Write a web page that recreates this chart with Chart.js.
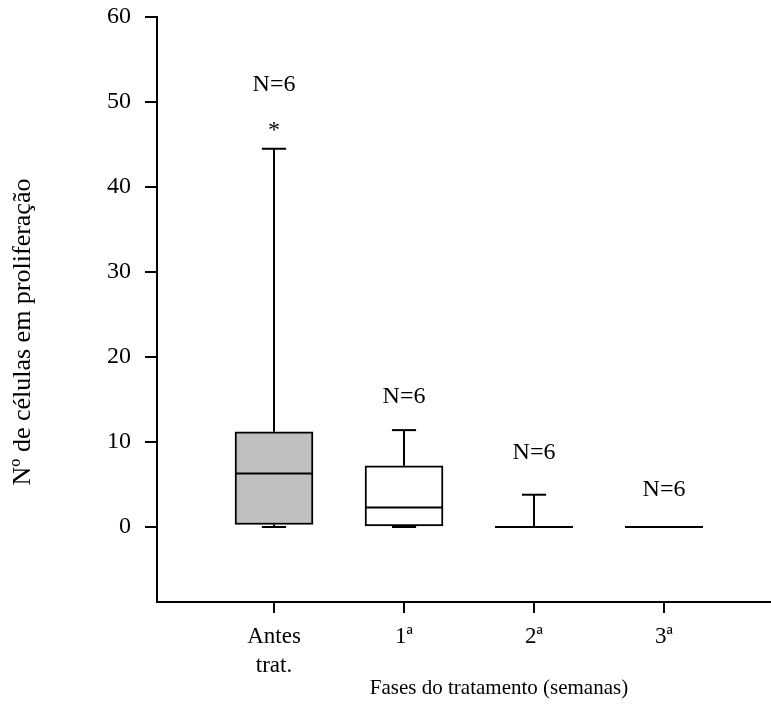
<!DOCTYPE html>
<html>
<head>
<meta charset="utf-8">
<title>Células em proliferação</title>
<script src="https://cdn.jsdelivr.net/npm/chart.js@4/dist/chart.umd.min.js"></script>
<style>
  html, body { margin: 0; padding: 0; background: #fff; }
  #wrap { width: 771px; height: 724px; }
</style>
</head>
<body>
<div id="wrap"><canvas id="boxChart" width="771" height="724"></canvas></div>
<script>
// phases of treatment and box statistics per phase
const categories = [['Antes', 'trat.'], '1ª', '2ª', '3ª'];
const positions = [1, 2, 3, 4];
const whiskerLow = [0, 0, 0, 0];
const q1 = [0.3, 0, 0, 0];
const median = [6.3, 2.3, 0, 0];
const q3 = [11.2, 7.2, 0, 0];
const whiskerHigh = [44.5, 11.4, 3.8, 0];
const extremes = [[47.2], [], [], []];
const nLabels = ['N=6', 'N=6', 'N=6', 'N=6'];
const nLabelY = [52, 15.3, 8.8, 4.4];
const yTicks = [0, 10, 20, 30, 40, 50, 60];
const boxColors = ['#c0c0c0', '#ffffff', '#ffffff', '#ffffff'];

const FONT = '"Liberation Serif", "Times New Roman", serif';

// whiskers, medians, N labels and axis titles
const boxExtras = {
    id: 'boxExtras',
    afterDatasetsDraw(chart) {
        const ctx = chart.ctx;
        const xs = chart.scales.x;
        const ys = chart.scales.y;
        const meta = chart.getDatasetMeta(0);
        ctx.save();
        ctx.strokeStyle = '#000';
        ctx.lineWidth = 2;
        positions.forEach((p, i) => {
            const xc = xs.getPixelForValue(p);
            const half = meta.data[i].width / 2;
            const cap = half * 0.31;
            const line = (x1, y1, x2, y2) => {
                ctx.beginPath();
                ctx.moveTo(x1, y1);
                ctx.lineTo(x2, y2);
                ctx.stroke();
            };
            // upper whisker
            if (whiskerHigh[i] > q3[i]) {
                line(xc, ys.getPixelForValue(q3[i]), xc, ys.getPixelForValue(whiskerHigh[i]));
                line(xc - cap, ys.getPixelForValue(whiskerHigh[i]), xc + cap, ys.getPixelForValue(whiskerHigh[i]));
            }
            // lower whisker
            line(xc, ys.getPixelForValue(q1[i]), xc, ys.getPixelForValue(whiskerLow[i]));
            line(xc - cap, ys.getPixelForValue(whiskerLow[i]), xc + cap, ys.getPixelForValue(whiskerLow[i]));
            // median
            line(xc - half, ys.getPixelForValue(median[i]), xc + half, ys.getPixelForValue(median[i]));

            ctx.fillStyle = '#000';
            ctx.textAlign = 'center';
            ctx.textBaseline = 'middle';
            ctx.font = '24px ' + FONT;
            extremes[i].forEach(v => ctx.fillText('*', xc, ys.getPixelForValue(v) + 5));
            ctx.fillText(nLabels[i], xc, ys.getPixelForValue(nLabelY[i]));
        });

        // axis titles
        ctx.fillStyle = '#000';
        ctx.textAlign = 'center';
        ctx.textBaseline = 'middle';
        ctx.font = '21px ' + FONT;
        ctx.fillText('Fases do tratamento (semanas)', 499, 688);
        ctx.font = '26px ' + FONT;
        ctx.translate(23, 332);
        ctx.rotate(-Math.PI / 2);
        ctx.fillText('Nº de células em proliferação', 0, 0);
        ctx.restore();
    }
};

const boxChart = new Chart(document.getElementById('boxChart'), {
    type: 'bar',
    data: {
        datasets: [{
            data: positions.map((p, i) => ({ x: p, y: [q1[i], q3[i]] })),
            backgroundColor: boxColors,
            borderColor: '#000',
            borderWidth: 2,
            borderSkipped: false,
            barThickness: 78
        }]
    },
    options: {
        responsive: false,
        animation: false,
        devicePixelRatio: 1,
        layout: { padding: { top: 17, right: 1, left: 0, bottom: 0 } },
        plugins: {
            legend: { display: false },
            tooltip: { enabled: false }
        },
        scales: {
            x: {
                type: 'linear',
                min: 0.1,
                max: 4.815,
                offset: false,
                afterBuildTicks: s => { s.ticks = positions.map(v => ({ value: v })); },
                afterFit: s => { s.height = 122; s.paddingLeft = 0; s.paddingRight = 0; },
                grid: { offset: false, drawOnChartArea: false, drawTicks: true, tickLength: 11, color: '#000', lineWidth: 2 },
                border: { display: true, color: '#000', width: 2 },
                ticks: {
                    color: '#000',
                    padding: 10,
                    maxRotation: 0,
                    autoSkip: false,
                    font: { family: FONT, size: 23, lineHeight: 1.25 },
                    callback: v => categories[positions.indexOf(v)]
                }
            },
            y: {
                min: -8.82,
                max: 60,
                afterBuildTicks: s => { s.ticks = yTicks.map(v => ({ value: v })); },
                afterFit: s => { s.width = 157; s.paddingTop = 0; s.paddingBottom = 0; },
                grid: { drawOnChartArea: false, drawTicks: true, tickLength: 12, color: '#000', lineWidth: 2 },
                border: { display: true, color: '#000', width: 2 },
                ticks: {
                    color: '#000',
                    padding: 14,
                    font: { family: FONT, size: 24 }
                }
            }
        }
    },
    plugins: [boxExtras]
});
</script>
</body>
</html>
